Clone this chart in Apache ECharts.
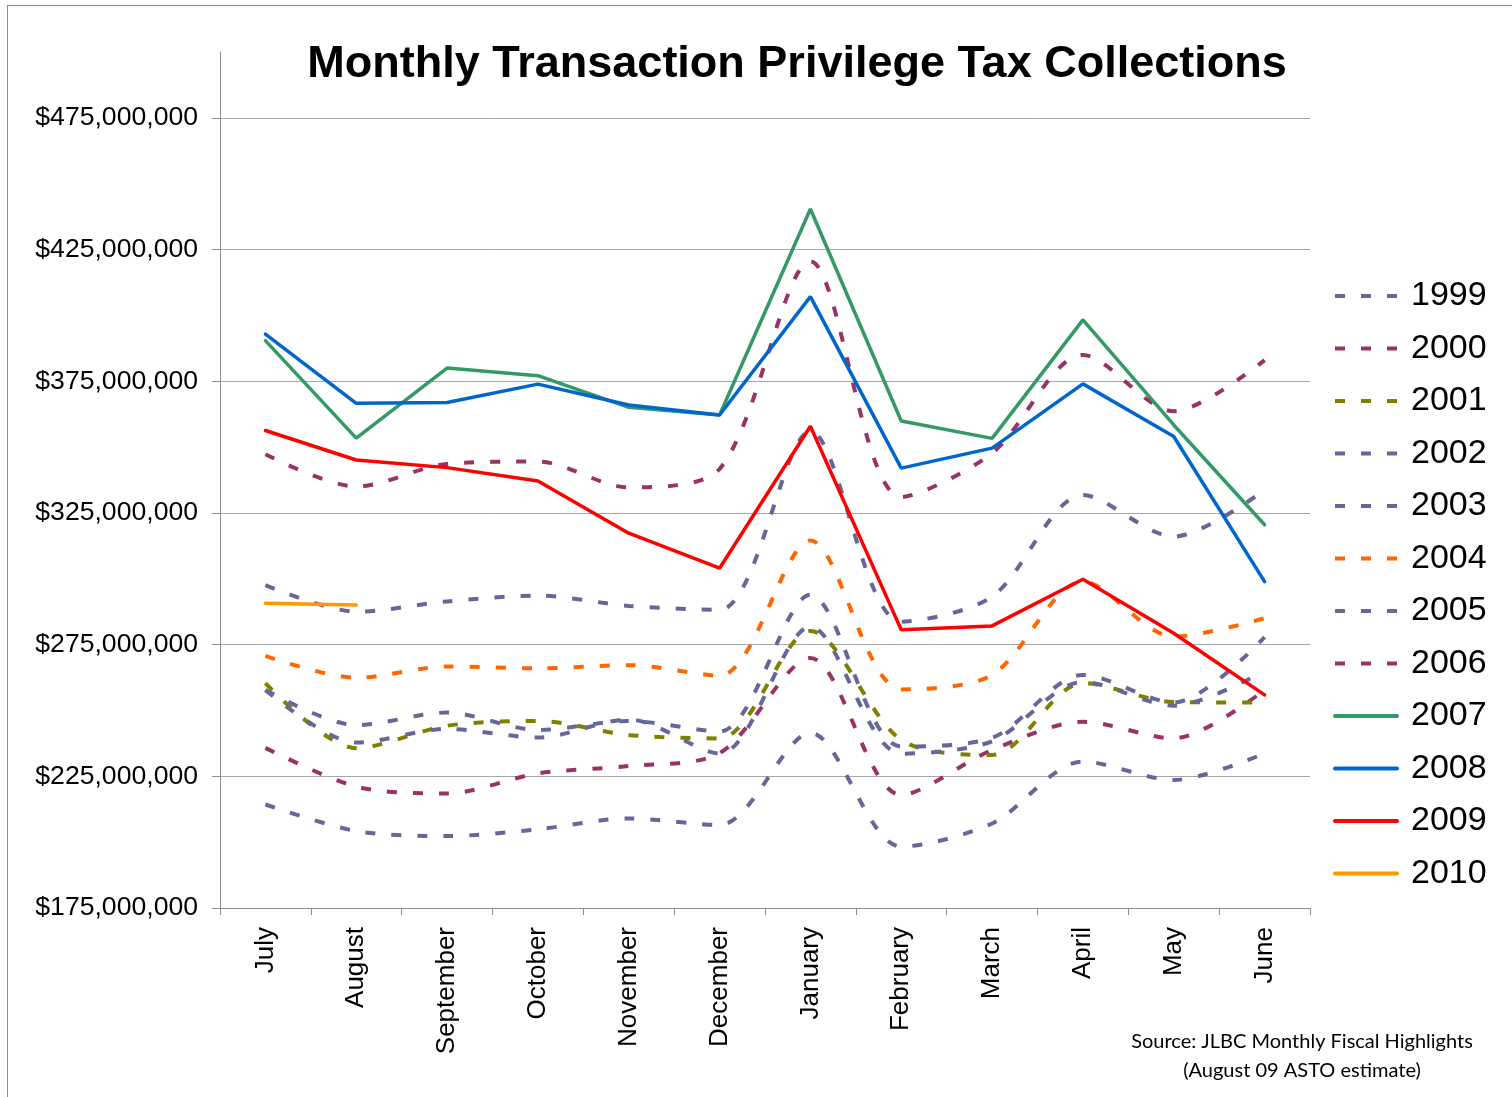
<!DOCTYPE html>
<html>
<head>
<meta charset="utf-8">
<script src="https://cdn.jsdelivr.net/npm/echarts@6/dist/echarts.min.js"></script>
<style>
  html, body { margin: 0; padding: 0; background: #fff; }
  #wrap { position: relative; width: 1512px; height: 1097px; overflow: hidden; }
  #frame { position: absolute; left: 7px; top: 5px; width: 1520px; height: 1110px; border: 1.5px solid #8c8c8c; box-sizing: border-box; pointer-events: none; }
  #chart { position: absolute; left: 0; top: 0; width: 1512px; height: 1097px; }
</style>
</head>
<body>
<div id="wrap">
  <div id="chart"></div>
  <div id="frame"></div>
</div>
<script>
// Values in millions of dollars
const months = ['July','August','September','October','November','December','January','February','March','April','May','June'];
const yearNames = ['1999','2000','2001','2002','2003','2004','2005','2006','2007','2008','2009','2010'];
const yTicks = [175, 225, 275, 325, 375, 425, 475];

const y1999 = [214.3, 204.2, 202.3, 204.9, 209.0, 206.5, 241.5, 198.3, 207.1, 230.6, 223.6, 233.7];
const y2000 = [235.8, 221.1, 218.5, 226.1, 228.9, 233.8, 269.9, 217.9, 235.0, 245.7, 239.4, 257.8];
const y2001 = [260.4, 235.7, 244.2, 246.0, 240.7, 239.4, 280.2, 238.8, 233.1, 260.4, 253.2, 253.0];
const y2002 = [257.8, 237.8, 243.0, 239.7, 246.6, 233.6, 281.8, 233.6, 238.3, 260.8, 251.8, 265.0];
const y2003 = [257.8, 244.4, 249.2, 242.6, 246.0, 242.0, 293.9, 236.3, 239.6, 263.5, 253.0, 277.8];
const y2004 = [270.7, 262.4, 266.7, 266.0, 267.2, 263.2, 314.5, 258.0, 263.5, 299.0, 278.0, 285.0];
const y2005 = [297.6, 287.5, 291.4, 293.6, 289.7, 288.2, 356.0, 283.7, 293.2, 331.8, 316.0, 333.7];
const y2006 = [347.3, 335.0, 343.6, 344.5, 334.7, 341.7, 420.5, 331.0, 347.7, 385.0, 363.6, 383.0];
const y2007 = [390.4, 353.4, 380.0, 377.1, 365.1, 362.2, 440.4, 359.9, 353.3, 398.3, 358.4, 320.5];
const y2008 = [392.9, 366.6, 366.9, 373.9, 366.0, 362.2, 407.1, 342.0, 349.6, 374.0, 354.0, 298.9];
const y2009 = [356.3, 345.1, 342.2, 337.1, 317.3, 304.0, 357.9, 280.6, 282.1, 299.8, 279.3, 255.9];
const y2010 = [290.7, 290.0];

const seriesData = [y1999, y2000, y2001, y2002, y2003, y2004, y2005, y2006, y2007, y2008, y2009, y2010];
const colors = ['#666699', '#993366', '#808000', '#666699', '#666699', '#FF6600', '#666699', '#993366', '#339966', '#0066CC', '#FF0000', '#FF9900'];
const dashed = [true, true, true, true, true, true, true, true, false, false, false, false];

const FONT = '"Liberation Sans", Arial, sans-serif';

const series = yearNames.map((name, i) => ({
  name: name,
  type: 'line',
  data: seriesData[i],
  symbol: 'none',
  showSymbol: false,
  smooth: dashed[i] ? 0.3 : false,
  color: colors[i],
  lineStyle: dashed[i]
    ? { color: colors[i], width: 4, type: [10, 16], cap: 'butt' }
    : { color: colors[i], width: 3.5, type: 'solid', cap: 'round' },
  emphasis: { disabled: true },
  z: 2 + i
}));

const chart = echarts.init(document.getElementById('chart'), null, { renderer: 'canvas' });
chart.setOption({
  animation: false,
  backgroundColor: 'transparent',
  title: {
    text: 'Monthly Transaction Privilege Tax Collections',
    left: 797,
    top: 42,
    textAlign: 'center',
    padding: 0,
    textStyle: { fontFamily: FONT, fontWeight: 'bold', fontSize: 45, color: '#000' }
  },
  grid: { left: 220, right: 202, top: 52, bottom: 189, containLabel: false },
  legend: {
    orient: 'vertical',
    left: 1333,
    top: 279,
    padding: 0,
    itemWidth: 62,
    itemHeight: 14,
    itemGap: 18.5,
    data: yearNames,
    lineStyle: { width: 4 },
    itemStyle: { color: 'transparent', borderColor: 'transparent', borderWidth: 0, opacity: 0 },
    textStyle: { fontFamily: FONT, fontSize: 34, color: '#000', padding: [0, 0, 0, 9] }
  },
  xAxis: {
    type: 'category',
    data: months,
    boundaryGap: true,
    axisLine: { show: true, lineStyle: { color: '#8c8c8c', width: 1 } },
    axisTick: { show: true, alignWithLabel: false, length: 7, lineStyle: { color: '#8c8c8c' } },
    axisLabel: { rotate: 90, margin: 19, interval: 0, fontFamily: FONT, fontSize: 26, color: '#000' },
    splitLine: { show: false }
  },
  yAxis: {
    type: 'value',
    min: 175,
    max: 500,
    axisLine: { show: true, lineStyle: { color: '#8c8c8c', width: 1 } },
    axisTick: { show: true, length: 8, customValues: yTicks, lineStyle: { color: '#8c8c8c' } },
    axisLabel: {
      customValues: yTicks,
      margin: 22,
      fontFamily: FONT,
      fontSize: 26.6,
      color: '#000',
      formatter: v => '$' + v + ',000,000'
    },
    splitLine: { show: true, lineStyle: { color: '#a6a6a6', width: 1 } }
  },
  graphic: [
    {
      type: 'text',
      x: 1302,
      y: 1027,
      style: {
        text: 'Source: JLBC Monthly Fiscal Highlights\n(August 09 ASTO estimate)',
        fontFamily: 'Lato, "Open Sans", sans-serif',
        fontSize: 20,
        lineHeight: 29,
        fill: '#000',
        align: 'center',
        verticalAlign: 'top'
      }
    }
  ],
  series: series
});
</script>
</body>
</html>
